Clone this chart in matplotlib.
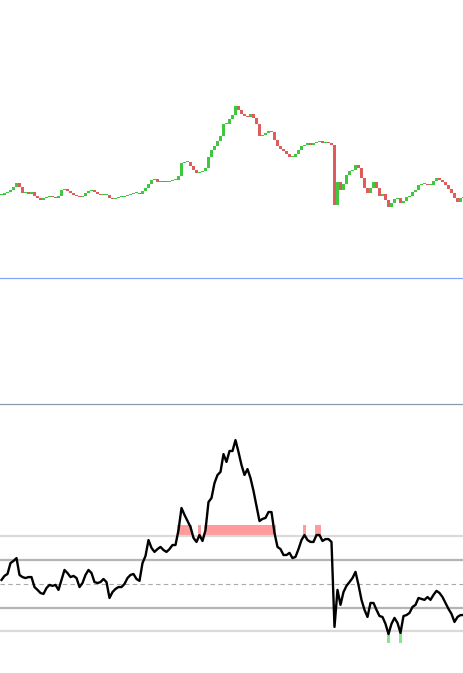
import matplotlib
matplotlib.use("Agg")
import matplotlib.pyplot as plt
import numpy as np
from matplotlib.lines import Line2D

# closing prices (index level), one per bar
closes = [
    55, 57, 58, 60, 63, 67, 63, 57, 58, 56,
    58, 54, 52, 50, 52, 53, 54, 53, 52, 54,
    60, 61, 59, 57, 55, 54, 53, 54, 57, 59,
    60, 58, 56, 55, 55, 55, 52, 51, 52, 53,
    53, 54, 55, 56, 57, 57, 56, 59, 62, 66,
    70, 71, 68, 69, 68, 68, 69, 70, 70, 74,
    87, 88, 88, 84, 80, 77, 78, 79, 82, 93,
    100, 104, 109, 114, 126, 126, 131, 135, 144, 140,
    136, 134, 133, 136, 132, 126, 114, 115, 117, 119,
    118, 110, 104, 101, 99, 96, 93, 93, 96, 100,
    104, 105, 107, 105, 107, 108, 109, 107, 108, 107,
    105, 45, 68, 60, 66, 75, 79, 80, 85, 82,
    72, 62, 57, 62, 68, 62, 54, 56, 50, 43,
    47, 51, 52, 47, 49, 53, 54, 58, 60, 65,
    66, 66, 65, 65, 69, 72, 70, 68, 65, 61,
    57, 52, 48, 52, 53,
]

# oscillator values (level lines at -2, -1, 0, 1, 2)
osc = [
    0.17, 0.34, 0.42, 0.88, 0.97, 1.09, 0.38, 0.29, 0.25, 0.29,
    0.29, -0.13, -0.25, -0.38, -0.42, -0.17, -0.04, -0.08, -0.04, -0.25,
    0.17, 0.59, 0.46, 0.29, 0.34, 0.25, -0.13, 0.04, 0.38, 0.59,
    0.46, 0.08, 0.04, 0.08, 0.21, 0.08, -0.59, -0.34, -0.21, -0.13,
    -0.13, 0.00, 0.25, 0.38, 0.42, 0.21, 0.13, 0.88, 1.18, 1.85,
    1.52, 1.35, 1.47, 1.56, 1.43, 1.35, 1.47, 1.64, 1.64, 2.27,
    3.20, 2.91, 2.65, 2.40, 1.94, 1.77, 2.06, 1.81, 2.27, 3.45,
    3.62, 4.25, 4.59, 4.72, 5.47, 5.14, 5.60, 5.60, 6.06, 5.56,
    5.01, 4.59, 4.84, 4.46, 3.92, 3.28, 2.65, 2.74, 2.78, 3.03,
    3.03, 2.15, 1.56, 1.47, 1.22, 1.22, 1.31, 1.09, 1.14, 1.47,
    1.85, 2.06, 1.85, 1.77, 1.77, 2.06, 2.06, 1.81, 1.89, 1.89,
    1.77, -1.81, -0.25, -0.88, -0.34, -0.08, 0.08, 0.25, 0.51, -0.04,
    -0.67, -1.09, -1.39, -0.80, -0.80, -1.09, -1.35, -1.39, -1.68, -2.11,
    -1.68, -1.43, -1.64, -2.06, -1.35, -1.31, -1.22, -0.97, -0.88, -0.59,
    -0.63, -0.67, -0.55, -0.67, -0.46, -0.29, -0.38, -0.55, -0.80, -1.05,
    -1.26, -1.60, -1.39, -1.31, -1.31,
]

upper_level = 2.0
lower_level = -2.0
band = 0.5

closes = np.array(closes, dtype=float)
osc = np.array(osc, dtype=float)
idx = np.arange(len(closes))
opens = np.concatenate([[closes[0]], closes[:-1]])

W, H = 464, 673
fig = plt.figure(figsize=(W / 100, H / 100), dpi=100)

ax_price = fig.add_axes([0, 1 - 278 / H, 1, 278 / H])
ax_mid = fig.add_axes([0, 1 - 404 / H, 1, 126 / H])
ax_osc = fig.add_axes([0, 0, 1, (H - 404) / H])

for ax in (ax_price, ax_mid, ax_osc):
    ax.set_xlim(-0.5, len(closes) - 0.83)
    ax.set_axis_off()

# candles
up = closes >= opens
body_bottom = np.minimum(opens, closes)
body_height = np.maximum(np.abs(closes - opens), 1.0)
colors = np.where(up, "#3fc83f", "#e05c5c")
ax_price.bar(idx, body_height, bottom=body_bottom, width=0.9, color=colors, linewidth=0)
ax_price.set_ylim(-28, 250)

ax_mid.set_ylim(0, 1)

# oscillator
ax_osc.axhline(upper_level, color="#dadada", lw=1.6)
ax_osc.axhline(lower_level, color="#dadada", lw=1.6)
ax_osc.axhline(1, color="#b4b4b4", lw=1.6)
ax_osc.axhline(-1, color="#b4b4b4", lw=1.6)
ax_osc.axhline(0, color="#aaaaaa", lw=0.8, linestyle=(0, (4, 3)))

hi = osc > upper_level
lo = osc < lower_level
ax_osc.bar(idx[hi], band, bottom=upper_level, width=1.0, color="#ff8a8a", alpha=0.85, linewidth=0)
ax_osc.bar(idx[lo], -band, bottom=lower_level, width=1.0, color="#7ee07e", alpha=0.9, linewidth=0)

ax_osc.plot(idx, osc, color="black", lw=1.7, solid_joinstyle="round")
ax_osc.set_ylim(-3.75, 7.58)

# panel separators
fig.add_artist(Line2D([0, 1], [1 - 278 / H] * 2, transform=fig.transFigure, color="#84a4ff", lw=0.9))
fig.add_artist(Line2D([0, 1], [1 - 404 / H] * 2, transform=fig.transFigure, color="#8d9ba7", lw=0.9))

fig.savefig("out.png", dpi=100)
plt.close(fig)
